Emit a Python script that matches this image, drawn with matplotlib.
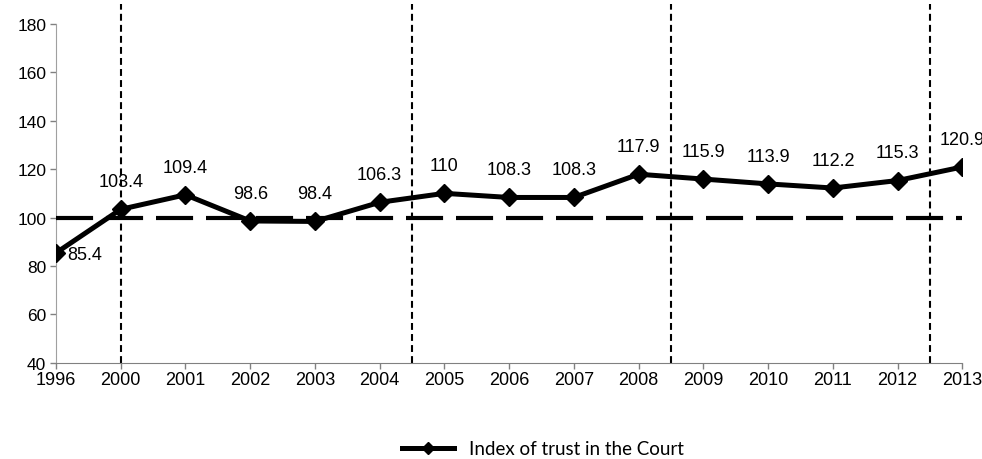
import matplotlib
matplotlib.use("Agg")
from matplotlib import pyplot as plt
from matplotlib.lines import Line2D

# chart data
years = ['1996', '2000', '2001', '2002', '2003', '2004', '2005', '2006',
         '2007', '2008', '2009', '2010', '2011', '2012', '2013']
trust = [85.4, 103.4, 109.4, 98.6, 98.4, 106.3, 110, 108.3,
         108.3, 117.9, 115.9, 113.9, 112.2, 115.3, 120.9]
labels = ['85.4', '103.4', '109.4', '98.6', '98.4', '106.3', '110', '108.3',
          '108.3', '117.9', '115.9', '113.9', '112.2', '115.3', '120.9']
breaks = [1, 5.5, 9.5, 13.5]   # period separators (category positions)
baseline = 100
series_name = 'Index of trust in the Court'

plt.rcParams['font.family'] = ['Liberation Sans', 'DejaVu Sans']

fig = plt.figure(figsize=(9.82, 4.6), dpi=100)
ax = fig.add_axes([0.057, 0.209, 0.923, 0.737])

x = list(range(len(years)))
ax.plot(x, trust, color='black', lw=3.6, marker='D', ms=9, zorder=4)

# baseline at 100
ax.plot([x[0], x[-1]], [baseline, baseline], color='black', lw=3,
        dashes=(8.9, 3.1), zorder=3)

# vertical separators, running up past the top of the axes
for b in breaks:
    ax.plot([b, b], [40, 188], color='black', lw=1.5, dashes=(3.3, 2),
            clip_on=False, zorder=2)

for i, (v, t) in enumerate(zip(trust, labels)):
    if i == 0:
        ax.annotate(t, (i, v), xytext=(21, -1), textcoords='offset points',
                    ha='center', va='center', fontsize=13)
    else:
        ax.annotate(t, (i, v), xytext=(0, 20), textcoords='offset points',
                    ha='center', va='center', fontsize=13)

ax.set_xlim(0, len(years) - 1)
ax.set_ylim(40, 180)
ax.set_yticks(range(40, 181, 20))
ax.set_xticks(x)
ax.set_xticklabels(years)
ax.tick_params(axis='x', labelsize=13, length=4, color='#808080', width=1, pad=2)
ax.tick_params(axis='y', labelsize=12.5, length=4, color='#808080', width=1, pad=3)

for s in ['top', 'right']:
    ax.spines[s].set_visible(False)
ax.spines['left'].set_color('#a0a0a0')
ax.spines['bottom'].set_color('#808080')

handle = Line2D([], [], color='black', lw=3.6, marker='D', ms=6)
fig.legend([handle], [series_name], loc='center', bbox_to_anchor=(0.553, 0.022),
           frameon=False, handlelength=2.8, handletextpad=0.8,
           prop={'family': 'Lato', 'size': 13.5})

fig.savefig('out.png', dpi=100)
